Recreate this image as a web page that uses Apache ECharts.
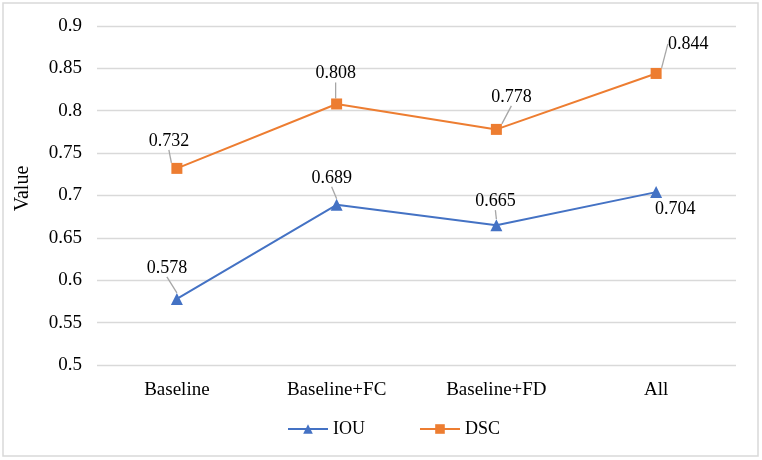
<!DOCTYPE html>
<html><head><meta charset="utf-8">
<script src="https://cdn.jsdelivr.net/npm/echarts@6/dist/echarts.min.js"></script>
<style>html,body{margin:0;padding:0;background:#fff}#c{width:762px;height:460px}</style>
</head><body><div id="c"></div>
<script>
const categories = ['Baseline', 'Baseline+FC', 'Baseline+FD', 'All'];
const iouValues = [0.578, 0.689, 0.665, 0.704];
const dscValues = [0.732, 0.808, 0.778, 0.844];
const yTicks = { min: 0.5, max: 0.9, interval: 0.05 };

// label offsets and leader-line flags (style only)
const iouOffsets = [[-10, -11], [-5, -7], [-1, -4], [19, 37]];
const dscOffsets = [[-8, -8], [-1, -11], [15, -13], [32, -10]];
const iouLines = [true, true, true, false];
const dscLines = [true, true, true, true];

const FONT = '"Liberation Serif", "Times New Roman", serif';
const chart = echarts.init(document.getElementById('c'), null, { renderer: 'canvas' });

function mkSeries(name, values, color, symbol, offsets, lines) {
  return {
    name, type: 'line',
    data: values.map((v, i) => ({ value: v, labelLine: { show: lines[i] } })),
    symbol, symbolSize: symbol === 'triangle' ? 12 : 11,
    lineStyle: { color, width: 2 },
    itemStyle: { color },
    label: { show: true, position: 'top', distance: 5, color: '#000', fontFamily: FONT, fontSize: 18,
      formatter: p => p.value.toFixed(3) },
    labelLine: { show: true, lineStyle: { color: '#a6a6a6', width: 1.3 } },
    labelLayout: p => ({ dx: offsets[p.dataIndex][0], dy: offsets[p.dataIndex][1] }),
    emphasis: { disabled: true },
    animation: false
  };
}

chart.setOption({
  animation: false,
  graphic: [{ type: 'rect', shape: { x: 3, y: 3, width: 755, height: 453 },
    style: { fill: 'none', stroke: '#d9d9d9', lineWidth: 1.5 }, silent: true }],
  grid: { left: 97, right: 26, top: 26, bottom: 95 },
  xAxis: {
    type: 'category', data: categories, boundaryGap: true,
    axisLine: { show: false }, axisTick: { show: false },
    axisLabel: { color: '#000', fontFamily: FONT, fontSize: 19, margin: 16 }
  },
  yAxis: {
    type: 'value', min: yTicks.min, max: yTicks.max, interval: yTicks.interval,
    name: 'Value', nameLocation: 'middle', nameGap: 64,
    nameTextStyle: { color: '#000', fontFamily: FONT, fontSize: 20, padding: [0, 0, 0, 14] },
    axisLine: { show: false }, axisTick: { show: false },
    axisLabel: { color: '#000', fontFamily: FONT, fontSize: 19, margin: 15,
      formatter: v => String(parseFloat(v.toFixed(2))) },
    splitLine: { lineStyle: { color: '#d9d9d9', width: 1.3 } }
  },
  legend: {
    left: 282, top: 415, itemWidth: 40, itemHeight: 12, itemGap: 54,
    textStyle: { color: '#000', fontFamily: FONT, fontSize: 18 },
    data: ['IOU', 'DSC']
  },
  series: [
    mkSeries('IOU', iouValues, '#4472C4', 'triangle', iouOffsets, iouLines),
    mkSeries('DSC', dscValues, '#ED7D31', 'rect', dscOffsets, dscLines)
  ]
});
</script></body></html>
